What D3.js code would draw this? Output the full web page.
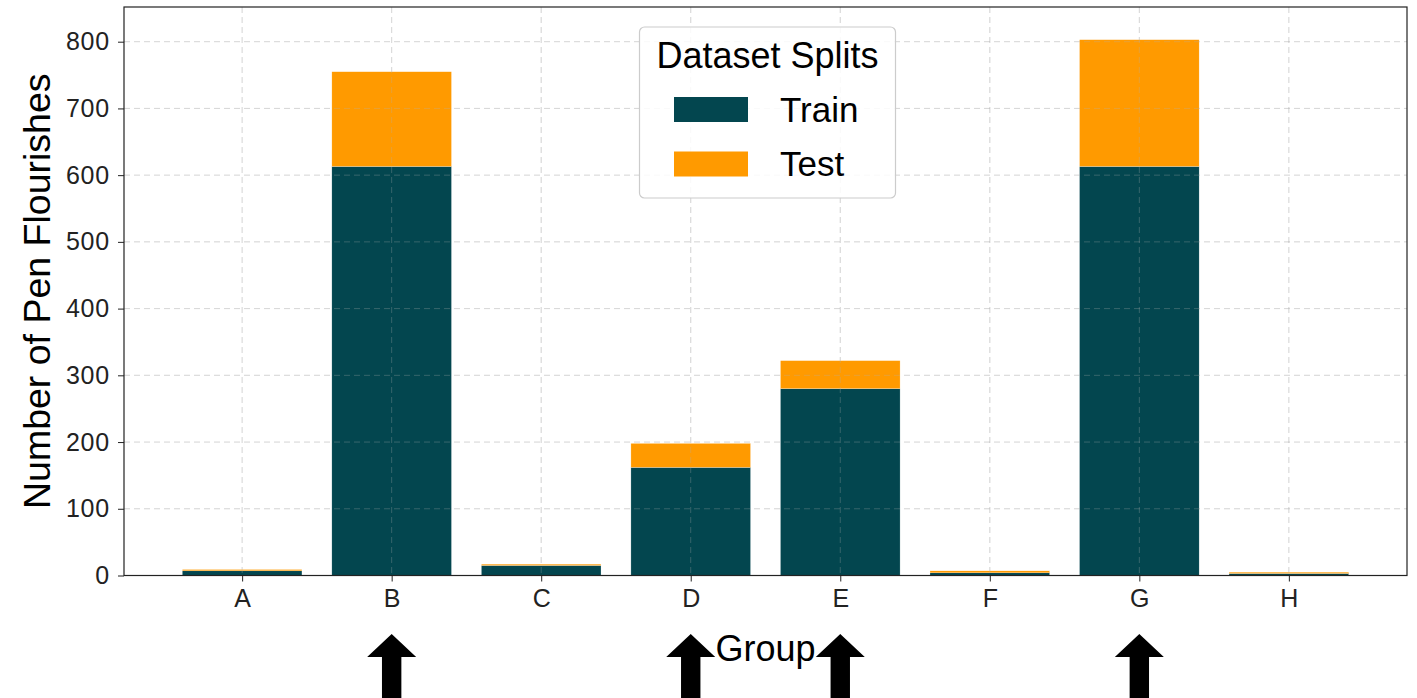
<!DOCTYPE html>
<html>
<head>
<meta charset="utf-8">
<script src="https://cdn.jsdelivr.net/npm/d3@7/dist/d3.min.js"></script>
<style>
  html, body { margin: 0; padding: 0; background: #fff; }
  svg { display: block; font-family: "Liberation Sans", Arial, sans-serif; }
</style>
</head>
<body>
<svg id="chart" width="1417" height="698"></svg>
<script>
const categories = ["A", "B", "C", "D", "E", "F", "G", "H"];
const trainValues = [7, 613, 15, 162, 280, 4, 613, 3];
const testValues = [2, 142, 2, 36, 42, 3, 190, 2];
const yTicks = [0, 100, 200, 300, 400, 500, 600, 700, 800];
const seriesNames = ["Train", "Test"];
const seriesColors = ["#03464f", "#ff9a00"];
const arrowGroups = ["B", "D", "E", "G"];

(function () {
const svg = d3.select("#chart");
const mLeft = 124, mRight = 1407, mTop = 7, mBottom = 575.5;

const x = d3.scaleLinear().domain([-0.79, categories.length - 1 + 0.79]).range([mLeft, mRight]);
const y = d3.scaleLinear().domain([0, 852]).range([mBottom, mTop]);
const barW = x(0.8) - x(0);

function drawGrid(g) {
  g.selectAll("line.hg").data(yTicks).enter().append("line").attr("class", "hg")
    .attr("x1", mLeft).attr("x2", mRight)
    .attr("y1", d => y(d)).attr("y2", d => y(d))
    .attr("stroke", "#b0b0b0").attr("stroke-opacity", 0.3)
    .attr("stroke-dasharray", "6,4").attr("stroke-width", 1);
  g.selectAll("line.vg").data(categories).enter().append("line").attr("class", "vg")
    .attr("x1", (d, i) => x(i)).attr("x2", (d, i) => x(i))
    .attr("y1", mTop).attr("y2", mBottom)
    .attr("stroke", "#b0b0b0").attr("stroke-opacity", 0.3)
    .attr("stroke-dasharray", "6,4").attr("stroke-width", 1);
}
drawGrid(svg.append("g"));

// stacked bars
const stackData = categories.map((c, i) => ({ cat: c, i: i, Train: trainValues[i], Test: testValues[i] }));
const stack = d3.stack().keys(seriesNames)(stackData);
svg.append("g").selectAll("g").data(stack).enter().append("g")
  .attr("fill", (d, k) => seriesColors[k])
  .selectAll("rect").data(d => d).enter().append("rect")
  .attr("x", d => x(d.data.i) - barW / 2)
  .attr("width", barW)
  .attr("y", d => y(d[1]))
  .attr("height", d => y(d[0]) - y(d[1]))
  .attr("stroke", "#ffffff").attr("stroke-width", 0.4).attr("stroke-opacity", 0.6);

drawGrid(svg.append("g"));

// frame
svg.append("rect").attr("x", mLeft).attr("y", mTop)
  .attr("width", mRight - mLeft).attr("height", mBottom - mTop)
  .attr("fill", "none").attr("stroke", "#222").attr("stroke-width", 1.2);

// y axis
const yAxis = svg.append("g").attr("transform", `translate(${mLeft},0)`)
  .call(d3.axisLeft(y).tickValues(yTicks).tickSize(6).tickPadding(8).tickFormat(d3.format("d")));
yAxis.select(".domain").remove();
yAxis.selectAll("text").attr("font-size", 25).attr("fill", "#222")
  .attr("letter-spacing", "0.8px")
  .attr("font-family", "Liberation Sans, Arial, sans-serif");
yAxis.selectAll("line").attr("stroke", "#222");

// x axis
const xAxis = svg.append("g").attr("transform", `translate(0,${mBottom})`)
  .call(d3.axisBottom(x).tickValues(d3.range(categories.length)).tickSize(6).tickPadding(8)
    .tickFormat(i => categories[i]));
xAxis.select(".domain").remove();
xAxis.selectAll("text").attr("font-size", 25).attr("fill", "#222")
  .attr("font-family", "Liberation Sans, Arial, sans-serif");
xAxis.selectAll("line").attr("stroke", "#222");

// axis labels
svg.append("text").attr("x", (mLeft + mRight) / 2).attr("y", 661)
  .attr("text-anchor", "middle").attr("font-size", 36).attr("fill", "#000").text("Group");
svg.append("text")
  .attr("transform", `translate(50,${(mTop + mBottom) / 2}) rotate(-90)`)
  .attr("text-anchor", "middle").attr("font-size", 37.5).attr("fill", "#000")
  .text("Number of Pen Flourishes");

// arrows
const arrowG = svg.append("g");
arrowGroups.forEach(g => {
  const cx = x(categories.indexOf(g));
  const path = d3.path();
  path.moveTo(cx, 634);
  path.lineTo(cx + 24.5, 657);
  path.lineTo(cx + 9.7, 657);
  path.lineTo(cx + 9.7, 710);
  path.lineTo(cx - 9.7, 710);
  path.lineTo(cx - 9.7, 657);
  path.lineTo(cx - 24.5, 657);
  path.closePath();
  arrowG.append("path").attr("d", path.toString()).attr("fill", "#000");
});

// legend
const lg = svg.append("g");
lg.append("rect").attr("x", 639.5).attr("y", 27).attr("width", 256).attr("height", 171)
  .attr("rx", 5).attr("fill", "#fff").attr("fill-opacity", 0.85)
  .attr("stroke", "#cccccc").attr("stroke-width", 1.2);
lg.append("text").attr("x", 767.5).attr("y", 68).attr("text-anchor", "middle")
  .attr("font-size", 36).attr("fill", "#000").text("Dataset Splits");
seriesNames.forEach((name, k) => {
  const yy = [97, 151.5][k];
  lg.append("rect").attr("x", 674).attr("y", yy).attr("width", 74).attr("height", 25)
    .attr("fill", seriesColors[k]);
  lg.append("text").attr("x", 780).attr("y", yy + 24.5)
    .attr("font-size", 35).attr("fill", "#000").text(name);
});
})();
</script>
</body>
</html>
